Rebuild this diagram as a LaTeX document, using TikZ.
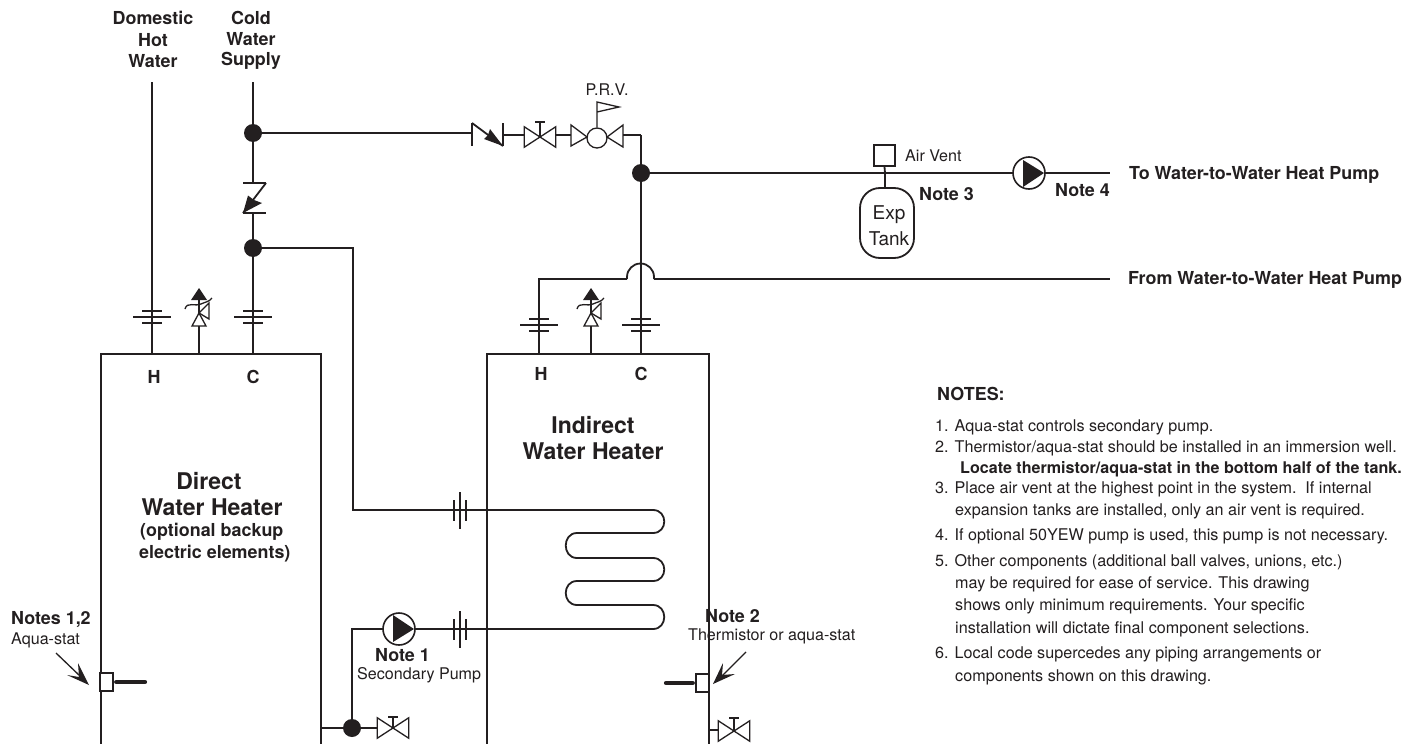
\documentclass[tikz,border=0pt]{standalone}
\usepackage{fontspec}
\setmainfont{TeX Gyre Heros}
\usetikzlibrary{shapes.misc}
\definecolor{ink}{HTML}{231F20}
\tikzset{
  pipe/.style={draw=ink,line width=1.8pt},
  thin sym/.style={draw=ink,line width=1.3pt},
  junction/.style={circle,fill=ink,draw=none,minimum size=18pt,inner sep=0pt},
  pumpbody/.style={circle,draw=ink,fill=white,line width=1.6pt,minimum size=32pt,inner sep=0pt},
  valvebox/.style={minimum width=31pt,minimum height=20pt,inner sep=0pt,draw=none},
  lbl/.style={inner sep=0pt,text=ink,font=\fontsize{16.1}{18}\selectfont},
  blbl/.style={inner sep=0pt,text=ink,font=\fontsize{17.9}{20}\selectfont\bfseries},
  big/.style={inner sep=0pt,text=ink,font=\fontsize{23}{26}\selectfont\bfseries},
  note/.style={inner sep=0pt,anchor=base west,text=ink,font=\fontsize{16.15}{18}\selectfont},
  rod/.style={draw=ink,line width=4.2pt,line cap=round}
}
% gate valve: name, x, y, stem length
\newcommand{\gatevalve}[4]{%
  \node[valvebox] (#1) at (#2,#3) {};
  \draw[thin sym] (#1.north west) -- (#1.south east) -- (#1.north east) -- (#1.south west) -- cycle;
  \draw[thin sym] (#2,#3) -- (#2,#3-#4) (#2-5,#3-#4) -- (#2+5,#3-#4);
}
% horizontal-pipe union (three vertical bars)
\newcommand{\unionH}[2]{%
  \draw[thin sym] (#1-6,#2-10) -- (#1-6,#2+11) (#1+6,#2-10) -- (#1+6,#2+11);
  \draw[pipe] (#1,#2-18) -- (#1,#2+19);
}
% vertical-pipe union (three horizontal bars)
\newcommand{\unionV}[2]{%
  \draw[thin sym] (#1-10,#2-6) -- (#1+10,#2-6) (#1-10,#2+6) -- (#1+10,#2+6);
  \draw[thin sym] (#1-19,#2) -- (#1+19,#2);
}
% relief valve, local origin = stem foot on tank top
\newcommand{\reliefvalve}[3]{%
  \begin{scope}[shift={(#1,#2)}]
    \coordinate (#3) at (0,0);
    \draw[thin sym] (0,0) -- (0,-28);
    \draw[thin sym] (-7,-28) -- (7,-28) -- (0,-41) -- cycle;
    \draw[thin sym] (0,-41) -- (10,-51) -- (10,-35) -- cycle;
    \draw[thin sym] (0,-41) -- (0,-54);
    \fill[ink] (0,-66) -- (8,-54) -- (-8,-54) -- cycle;
    \draw[thin sym] (-14,-45) .. controls (-12,-53) and (-3,-47) .. (2,-50) .. controls (6,-52) and (10,-52) .. (13,-56);
  \end{scope}
}
\begin{document}
\begin{tikzpicture}[x=1pt,y=-1pt]
\useasboundingbox (0,0) rectangle (1414,744);
\fill[white] (0,0) rectangle (1414,744);

% Tanks
\draw[pipe] (101,744) -- (101,354) -- (321,354) -- (321,744);
\draw[pipe] (487,744) -- (487,354) -- (709,354) -- (709,744);

% Nodes for junctions
\node[junction] (j1) at (253,133) {};
\node[junction] (j2) at (253,248) {};
\node[junction] (j3) at (641,173) {};
\node[junction] (j4) at (352,728) {};

% named free ends
\coordinate (hotTop) at (152,82);
\coordinate (hotFoot) at (152,354);
\coordinate (coldTop) at (253,82);
\coordinate (coldFoot) at (253,354);
\coordinate (cvTop) at (253,183);
\coordinate (cvBot) at (253,213);
\coordinate (h2foot) at (539,354);
\coordinate (h2knee) at (539,279);
\coordinate (c2foot) at (641,354);
\coordinate (humpL) at (627,279);
\coordinate (humpR) at (654,279);
\coordinate (fromEnd) at (1110,279);
\coordinate (toEnd) at (1110,173);
\coordinate (cv2L) at (472,133);
\coordinate (cv2R) at (503,135);
\coordinate (p2knee) at (641,135);
\coordinate (k1) at (353,248);
\coordinate (k2) at (353,510);
\coordinate (coilA) at (653,510);
\coordinate (coilZ) at (653,629);
\coordinate (k3) at (352,629);
\coordinate (tankR) at (321,728);
\coordinate (tank2R) at (709,730);
\coordinate (ventFoot) at (885,173);

% Vertical pipes
\draw[pipe] (hotTop) -- (hotFoot);
\draw[pipe] (coldTop) -- (j1) -- (cvTop);
\draw[pipe] (cvBot) -- (j2) -- (coldFoot);
\draw[pipe] (j1) -- (cv2L);
\draw[pipe] (j2) -- (k1) -- (k2) -- (coilA);
\draw[pipe] (p2knee) -- (j3) -- (c2foot);

% Check valve, vertical
\draw[pipe] (243,183) -- (266,183) (243,213) -- (266,213);
\draw[pipe] (266,183) -- (243,213);
\fill[ink] (243,213) -- (248,195.5) -- (254,200) -- (262,203) -- cycle;

% Check valve, horizontal
\draw[pipe] (472,123) -- (472,146) (503,123) -- (503,146);
\draw[pipe] (472,123) -- (503,146);
\fill[ink] (503,146) -- (484,139) -- (488,135) -- (490,129) -- cycle;

% Valve and PRV
\gatevalve{v1}{540}{137}{15}
\draw[pipe] (cv2R) -- (v1.west |- cv2R);
\node[circle,draw=ink,thin sym,minimum size=20pt,inner sep=0pt] (prv) at (597,138) {};
\draw[thin sym] (587,137) -- (571,125) -- (571,146) -- cycle;
\draw[thin sym] (607,137) -- (623,125) -- (623,147) -- cycle;
\draw[pipe] (556,135) -- (571,135);
\draw[pipe] (623,135) -- (p2knee);
\draw[thin sym] (prv.north) -- (597,102) -- (619,107) -- (597,112);

% Unions on heater inlets
\unionV{152}{317}
\unionV{253}{317}
\unionV{539}{325}
\unionV{641}{325}

% Relief valves
\reliefvalve{199}{354}{rv1}
\reliefvalve{591}{354}{rv2}

% Return line with hump
\draw[pipe] (h2foot) -- (h2knee) -- (humpL);
\draw[pipe] (humpL) -- (627,277) arc[start angle=180,end angle=360,radius=13.5] -- (humpR);
\draw[pipe] (humpR) -- (fromEnd);

% Supply line to heat pump
\draw[pipe] (j3) -- (toEnd);
\node[pumpbody] (p1) at (1029,173) {};
\fill[ink] (1023,160) -- (1044,173) -- (1023,187) -- cycle;
\node[rectangle,draw=ink,line width=1.6pt,minimum size=21pt,inner sep=0pt] (vent) at (884.5,155.5) {};
\draw[pipe] (vent.south) -- (ventFoot);
\node[draw=ink,line width=1.8pt,rounded corners=20pt,minimum width=54pt,minimum height=70pt,inner sep=0pt,fill=white] (exp) at (887,223) {};
\node[inner sep=0pt,text=ink,align=center,font=\fontsize{19}{26}\selectfont] (exptext) at (889,226) {Exp\\Tank};
\draw[pipe] (ventFoot) -- (exp.north -| ventFoot);

% Coil
\draw[pipe] (coilA) .. controls (668,510) and (668,533) .. (653,533) -- (577,533)
  .. controls (562,533) and (562,558) .. (577,558) -- (653,558)
  .. controls (668,558) and (668,581) .. (653,581) -- (577,581)
  .. controls (562,581) and (562,605) .. (577,605) -- (653,605)
  .. controls (668,605) and (668,629) .. (coilZ);
\draw[pipe] (coilZ) -- (k3) -- (j4);
\unionH{460}{510}
\unionH{460}{629}

% Secondary pump
\node[pumpbody] (p2) at (399,629) {};
\fill[ink] (393,615) -- (414,629) -- (393,642) -- cycle;

% Bottom lines
\draw[pipe] (tankR) -- (j4);
\gatevalve{v2}{393}{728}{11}
\draw[pipe] (j4) -- (v2.west);
\gatevalve{v3}{734}{731}{13}
\draw[pipe] (tank2R) -- (v3.west |- tank2R);

% Aqua-stat
\node[rectangle,draw=ink,line width=1.4pt,fill=white,minimum width=13pt,minimum height=18pt,inner sep=0pt] (as) at (106.5,682) {};
\draw[rod] (as.east) ++(2.5,0) -- (145,682);
\coordinate (asA) at (56,653);
\coordinate (asT) at (89,685);
\draw[thin sym] (asA) -- (80,676);
\fill[ink] (asT) -- (67,675) -- (79,677) -- (78,663) -- cycle;

% Thermistor
\node[rectangle,draw=ink,line width=1.4pt,fill=white,minimum width=13pt,minimum height=18pt,inner sep=0pt] (th) at (702.5,683) {};
\draw[rod] (th.west) ++(-2.5,0) -- (666,683);
\coordinate (thA) at (746,652);
\coordinate (thT) at (713,684);
\draw[thin sym] (thA) -- (722,676);
\fill[ink] (thT) -- (723,663) -- (722,675) -- (735,674) -- cycle;

% Top labels
\node[blbl] (t1) at (153,18) {Domestic};
\node[blbl] (t2) at (153,40) {Hot};
\node[blbl] (t3) at (153,61) {Water};
\node[blbl] (t4) at (251,18) {Cold};
\node[blbl] (t5) at (251,39) {Water};
\node[blbl] (t6) at (251,61) {Supply};
\node[lbl] (tprv) at (607,90) {P.R.V.};
\node[lbl,anchor=west] (tvent) at (905,156) {Air Vent};
\node[blbl,anchor=west] (tn3) at (919,194) {Note 3};
\node[blbl,anchor=west] (tn4) at (1055,190) {Note 4};
\node[blbl,anchor=west] (tto) at (1129,175) {To Water-to-Water Heat Pump};
\node[blbl,anchor=west] (tfrom) at (1128,280) {From Water-to-Water Heat Pump};

% Tank labels
\node[blbl] (th1) at (154,377) {H};
\node[blbl] (tc1) at (253,377) {C};
\node[blbl] (th2) at (541,374) {H};
\node[blbl] (tc2) at (641,374) {C};
\node[big] (ti1) at (593,425) {Indirect};
\node[big] (ti2) at (593,451) {Water Heater};
\node[big] (td1) at (209,481) {Direct};
\node[big] (td2) at (212,507) {Water Heater};
\node[blbl,anchor=west] (td3) at (140,532) {(optional backup};
\node[blbl,anchor=west] (td4) at (139,554) {electric elements)};

\node[blbl,anchor=west] (a1) at (11,620) {Notes 1,2};
\node[lbl,anchor=west] (a2) at (11,640) {Aqua-stat};
\node[blbl,anchor=west] (b1) at (705,616) {Note 2};
\node[lbl,anchor=west] (b2) at (688,636) {Thermistor or aqua-stat};
\node[blbl,anchor=west] (c1) at (375,655) {Note 1};
\node[lbl,anchor=west] (c2) at (357,675) {Secondary Pump};

% Notes
\node[blbl,anchor=base west] (n0) at (937,400) {NOTES:};
\node[note] (n1) at (935,431) {1. Aqua-stat controls secondary pump.};
\node[note] (n2) at (935,452) {2. Thermistor/aqua-stat should be installed in an immersion well.};
\node[note,font=\fontsize{16.1}{18}\selectfont\bfseries] (n3) at (960,473) {Locate thermistor/aqua-stat in the bottom half of the tank.};
\node[note] (n4) at (935,493) {3. Place air vent at the highest point in the system.\ \ If internal};
\node[note] (n5) at (955,515) {expansion tanks are installed, only an air vent is required.};
\node[note] (n6) at (935,540) {4. If optional 50YEW pump is used, this pump is not necessary.};
\node[note] (n7) at (935,566) {5. Other components (additional ball valves, unions, etc.)};
\node[note] (n8) at (955,588) {may be required for ease of service. This drawing};
\node[note] (n9) at (955,610) {shows only minimum requirements. Your specific};
\node[note] (n10) at (955,633) {installation will dictate final component selections.};
\node[note] (n11) at (935,658) {6. Local code supercedes any piping arrangements or};
\node[note] (n12) at (955,681) {components shown on this drawing.};
\end{tikzpicture}
\end{document}
